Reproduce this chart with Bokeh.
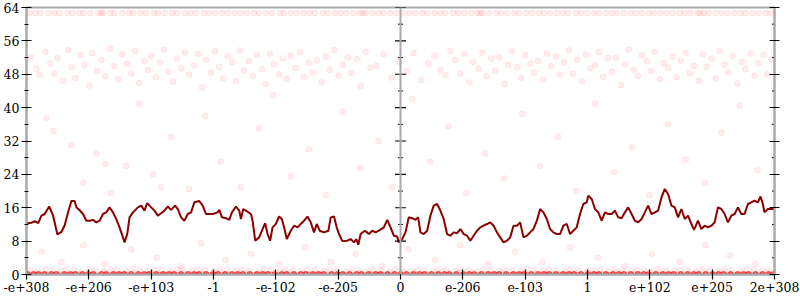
from bokeh.plotting import figure
from bokeh.models import Range1d, FixedTicker, LinearAxis, Span
from bokeh.embed import file_html
from bokeh.resources import INLINE

# ---- axis definitions -------------------------------------------------
x_tick_pos = [-375, -312.5, -250, -187.5, -125, -62.5, 0, 62.5, 125, 187.5, 250, 312.5, 375]
x_tick_labels = ["-e+308", "-e+206", "-e+103", "-1", "-e-102", "-e-205", "0",
                 "e-206", "e-103", "1", "e+102", "e+205", "2e+308"]
y_major = [0, 8, 16, 24, 32, 40, 48, 56, 64]
y_minor = [4, 12, 20, 28, 36, 44, 52, 60]

# ---- moving-average line ---------------------------------------------
line_x = [-375, -370, -366.7, -363.3, -360, -356.7, -352.3, -348.3, -344, -340, -336.7, -333.3, -330, -326.7,
          -325, -321.7, -318.3, -315, -311.7, -308.3, -305, -301.7, -298.3, -295, -291.7, -288.3, -285, -281.7,
          -278.3, -276.7, -274, -271.7, -268.3, -263.3, -260, -256.7, -254, -250, -246.7, -243.3, -240, -236.7,
          -233.3, -230, -226, -223.3, -220, -216.7, -213.3, -210, -206.7, -201.7, -198.3, -195, -191.7, -188.3,
          -183.3, -181.7, -179, -175, -171.7, -169, -165, -161.7, -160, -157.7, -155, -150, -148.3, -145.7,
          -141.7, -138.3, -135.7, -133.3, -130.7, -128.3, -125, -121.7, -119, -116.7, -114, -110, -106.7, -103.3,
          -100, -96.7, -93.3, -90, -86.7, -84, -81, -76.7, -72.3, -70, -66.7, -64, -61.7, -58.3, -53.3, -50,
          -46.7, -44.3, -42.3, -40, -35.7, -31.7, -28.3, -25, -21.7, -16.7, -13.3, -10, -6.7, -3.3, -1.7, 1.7,
          5, 8.3, 11.7, 15, 17.7, 20, 23.3, 26.7, 30, 33.3, 36.7, 40, 43.3, 46.7, 50, 53.3, 56.7, 60, 63.3,
          66.7, 70, 73.3, 76.7, 80, 83.3, 86.7, 90, 93.3, 96.7, 100, 103.3, 106.7, 110, 113.3, 116.7, 120,
          123.3, 126.7, 130, 133.3, 136.7, 140, 143.3, 146.7, 150, 153.3, 156.7, 160, 163.3, 166.7, 170, 173.3,
          176.7, 180, 183.3, 186.7, 188.3, 191.7, 195, 198.3, 201.7, 205, 208.3, 211.7, 215, 218.3, 221.7, 225,
          228.3, 231.7, 235, 238.3, 241.7, 245, 248.3, 251.7, 255, 258.3, 261.7, 265, 268.3, 271.7, 275, 278.3,
          281.7, 285, 288.3, 291.7, 294.3, 298.3, 301.7, 305, 308.3, 311.7, 315, 318.3, 321.7, 325, 328.3,
          331.7, 335, 338.3, 341.7, 345, 348.3, 351.7, 355, 358.3, 361, 363.3, 365, 368.3, 375]
line_y = [12.3, 12.4, 12.8, 12.3, 14.1, 14.5, 16.3, 14.1, 9.6, 10.2, 11.8, 14.9, 17.6, 17.6,
          16.1, 15.4, 14.5, 12.9, 12.9, 13.1, 12.5, 12.9, 14.5, 14.9, 16.1, 14.9, 13.3, 11.3,
          8.9, 7.7, 9.7, 13.7, 14.9, 16.1, 16.5, 15.3, 17.1, 16.1, 15.3, 14.1, 14.7, 15.3,
          16.3, 15.5, 16.5, 15.7, 13.7, 12.9, 14.5, 14.9, 17.3, 17.6, 16.5, 14.5, 14.5, 14.5,
          14.9, 15.5, 13.7, 13.5, 13.1, 14.9, 16.3, 15.3, 13.3, 15.7, 15.3, 14.5, 12.9, 8.1,
          8.9, 10.9, 12.3, 9.7, 8.1, 11.3, 12.1, 13.9, 13.3, 11.3, 8.5, 10.5, 11.7, 11.3,
          12.1, 12.9, 13.9, 12.5, 10.1, 12.1, 10.5, 10.1, 10.5, 13.7, 13.9, 11.3, 9.7, 8.0, 8.1, 8.5,
          7.7, 8.5, 7.1, 9.7, 10.5, 9.7, 10.5, 10.1, 10.5, 11.3, 13.1, 11.3, 9.3, 9.1, 7.7, 8.5,
          10.1, 13.7, 13.5, 13.1, 13.7, 10.1, 9.7, 10.5, 14.1, 16.5, 16.9, 15.3, 13.3, 9.7, 9.3, 10.1, 9.9, 10.9, 9.7,
          9.3, 8.1, 9.3, 10.5, 11.3, 11.7, 12.1, 12.5, 11.7, 10.1, 8.9, 7.7, 8.1, 8.9, 11.7, 11.7, 12.5,
          8.9, 9.3, 10.1, 10.9, 12.9, 15.7, 14.9, 13.3, 10.9, 10.1, 9.7, 9.7, 11.7, 12.1, 9.7, 10.5,
          11.3, 14.5, 16.9, 17.3, 18.9, 18.1, 15.7, 14.9, 12.9, 14.9, 14.5, 14.5, 15.3, 13.7, 13.5, 14.9,
          16.1, 14.5, 12.9, 12.5, 13.3, 14.9, 16.5, 14.5, 14.9, 15.3, 18.5, 20.5, 19.3, 16.5, 16.1, 13.7,
          15.7, 13.3, 14.1, 12.1, 10.7, 12.9, 10.9, 11.7, 11.3, 11.7, 12.5, 16.1, 15.7, 14.5, 12.5,
          14.1, 14.5, 16.1, 14.5, 14.5, 16.9, 17.3, 17.7, 17.3, 18.7, 16.9, 14.9, 15.7, 15.7]

# ---- scattered samples ------------------------------------------------
top_x = [-372, -366, -361, -353, -347, -342, -334, -329, -322, -318, -311, -303, -300, -298, -291, -287, -279,
         -272, -268, -261, -255, -247, -243, -236, -229, -224, -216, -211, -205, -197, -192, -186, -179, -173,
         -166, -160, -154, -147, -142, -135, -129, -121, -117, -110, -104, -97, -91, -86, -78, -73, -66, -60,
         -54, -47, -41, -38, -35, -28, -22, -17, -10, -4, 3, 9, 15, 22, 27, 34, 40, 45, 53, 58, 64, 71, 77,
         80, 82, 89, 96, 101, 107, 114, 119, 126, 132, 139, 144, 150, 157, 163, 168, 176, 181, 187, 194, 199,
         206, 212, 217, 224, 231, 236, 242, 249, 254, 261, 267, 273, 280, 285, 291, 298, 300, 304, 309, 316,
         322, 328, 335, 341, 346, 353, 359, 366, 371]
top_level = 62.7

zero_x = [-374, -368, -363, -357, -350, -345, -337, -331, -326, -319, -313, -308, -300, -295, -288, -282,
          -277, -270, -263, -257, -252, -245, -238, -232, -227, -220, -213, -207, -202, -195, -188, -183,
          -176, -169, -163, -158, -151, -144, -138, -133, -126, -119, -114, -107, -100, -95, -88, -82, -77,
          -69, -63, -58, -51, -44, -39, -32, -25, -20, -13, -6, 0, 6, 13, 19, 24, 31, 38, 44, 49, 56, 63, 69,
          74, 81, 88, 94, 99, 106, 113, 119, 124, 131, 138, 144, 149, 156, 163, 169, 174, 181, 188, 194, 199,
          206, 213, 219, 224, 231, 238, 244, 249, 256, 263, 269, 274, 281, 288, 294, 299, 306, 313, 319,
          324, 331, 338, 344, 349, 356, 363, 369, 374]

one_x = [-371, -364, -356, -349, -341, -335, -327, -320, -312, -306, -297, -290, -284, -275, -268, -261,
         -253, -246, -240, -231, -224, -218, -209, -203, -196, -187, -181, -174, -165, -159, -152, -143, -137,
         -130, -121, -115, -108, -99, -93, -86, -77, -71, -64, -55, -49, -42, -33, -27, -20, -11, -5, 2, 11,
         17, 24, 33, 39, 46, 55, 61, 68, 77, 83, 90, 99, 105, 112, 121, 127, 134, 143, 149, 156, 165, 171,
         178, 187, 193, 200, 209, 215, 222, 231, 237, 244, 253, 259, 266, 275, 281, 288, 297, 303, 310, 319,
         325, 332, 341, 347, 354, 363, 369]
one_y = [1.0, 0.8, 1.2, 1.0, 0.9, 1.1, 1.0, 0.7, 1.2, 1.0, 0.9, 1.1, 1.0, 0.8, 1.3, 1.0, 0.9, 1.1, 1.0,
         0.8, 1.2, 1.0, 0.9, 1.1, 1.0, 0.7, 1.2, 1.0, 0.9, 1.1, 1.0, 0.8, 1.3, 1.0, 0.9, 1.1, 1.0, 0.8, 1.2,
         1.0, 0.9, 1.1, 1.0, 0.7, 1.2, 1.0, 0.9, 1.1, 1.0, 0.8, 1.3, 1.0, 0.9, 1.1, 1.0, 0.8, 1.2, 1.0, 0.9,
         1.1, 1.0, 0.7, 1.2, 1.0, 0.9, 1.1, 1.0, 0.8, 1.3, 1.0, 0.9, 1.1, 1.0, 0.8, 1.2, 1.0, 0.9, 1.1, 1.0,
         0.7, 1.2, 1.0, 0.9, 1.1, 1.0, 0.8, 1.3, 1.0, 0.9, 1.1, 1.0, 0.8, 1.2, 1.0, 0.9, 1.1, 1.0, 0.7, 1.2,
         1.0, 0.9, 1.1]

band_x = [-371, -365, -362, -356, -351, -347, -344, -338, -333, -330, -326, -321, -317, -312, -309, -304,
          -300, -296, -291, -287, -283, -279, -274, -270, -266, -262, -257, -253, -250, -245, -241, -237,
          -233, -228, -224, -220, -216, -212, -207, -203, -199, -195, -190, -186, -182, -178, -173, -169,
          -165, -161, -157, -152, -148, -144, -139, -135, -131, -127, -122, -118, -114, -110, -105, -101,
          -97, -92, -88, -84, -79, -75, -71, -66, -62, -58, -53, -49, -44, -40, -35, -30, -24, -17, -9, -2,
          6, 13, 21, 28, 34, 40, 45, 50, 55, 60, 64, 69, 73, 78, 82, 86, 91, 95, 99, 104, 108, 112, 117, 121,
          125, 130, 134, 138, 143, 147, 151, 156, 160, 164, 169, 173, 177, 182, 186, 190, 195, 199, 203, 208,
          212, 216, 221, 225, 229, 234, 238, 242, 247, 251, 255, 260, 264, 268, 273, 277, 281, 286, 290, 294,
          299, 303, 307, 312, 316, 320, 325, 329, 333, 338, 342, 346, 351, 355, 359, 364, 368, 372]
band_y = [52.1, 49.3, 47.8, 53.4, 50.6, 48.2, 51.9, 46.5, 53.8, 49.7, 47.1, 52.6, 50.2, 45.3, 53.1, 48.8,
          51.4, 47.5, 54.2, 49.9, 46.8, 52.8, 50.5, 48.1, 53.6, 45.9, 51.2, 49.0, 52.4, 47.3, 50.8, 53.9,
          48.6, 46.2, 51.7, 49.4, 53.2, 47.9, 50.1, 52.9, 44.8, 51.5, 48.4, 53.5, 49.8, 47.0, 52.3, 50.9,
          46.4, 53.7, 48.9, 51.1, 47.6, 52.7, 49.2, 45.6, 53.0, 50.4, 48.0, 51.8, 46.9, 52.5, 49.5, 53.3,
          47.4, 50.7, 48.5, 51.3, 46.1, 52.2, 49.1, 53.8, 47.7, 50.3, 52.0, 48.3, 51.6, 45.1, 53.4, 49.6,
          50.0, 52.8, 47.2, 51.0, 48.7, 53.1, 46.6, 50.6, 52.4, 49.0, 47.8, 53.6, 51.4, 48.2, 52.9, 46.0,
          50.9, 49.3, 53.2, 47.5, 51.8, 48.9, 52.1, 45.7, 50.2, 53.5, 49.7, 47.1, 52.6, 50.5, 48.4, 51.2,
          46.7, 53.0, 49.9, 52.3, 47.9, 50.8, 53.7, 48.1, 51.5, 46.3, 52.7, 49.4, 50.1, 53.3, 47.4, 51.9,
          48.6, 52.0, 45.4, 50.4, 53.9, 49.1, 47.6, 52.5, 51.1, 48.8, 53.4, 46.8, 50.7, 49.6, 52.2, 47.3,
          51.3, 53.1, 48.3, 50.0, 46.4, 52.8, 49.8, 51.7, 47.0, 53.6, 50.3, 48.5, 52.4, 45.8, 51.0, 49.2,
          53.0, 47.7, 50.6, 52.6, 48.0, 51.6]

sparse_x = [-355, -348, -330, -318, -305, -296, -290, -275, -262, -248, -240, -230, -212, -196, -180, -160,
            -142, -128, -110, -92, -75, -58, -40, -22, -8, 12, 30, 48, 66, 85, 104, 122, 140, 158, 176, 195,
            214, 232, 250, 268, 286, 305, 322, 340, 358,
            -360, -340, -318, -296, -270, -244, -220, -200, -175, -150, -122, -96, -70, -45, -18, 8, 35, 60,
            88, 115, 142, 170, 198, 225, 252, 280, 306, 330, 356]
sparse_y = [37.5, 34.4, 31.0, 22.0, 29.0, 26.5, 19.5, 26.0, 41.0, 24.0, 21.0, 33.0, 20.5, 38.0, 27.0, 21.0,
            35.0, 43.0, 23.5, 30.0, 19.0, 39.0, 25.5, 32.0, 21.0, 42.0, 27.0, 35.5, 19.5, 29.0, 23.0, 38.5,
            26.0, 33.0, 20.0, 41.0, 24.5, 30.5, 19.0, 36.0, 27.5, 22.0, 34.0, 40.5, 25.0,
            5.5, 3.0, 7.0, 2.5, 6.0, 4.0, 2.0, 7.5, 3.5, 5.0, 2.5, 6.5, 3.0, 5.0, 2.0, 6.0, 3.5, 7.0,
            2.5, 5.5, 3.0, 6.5, 4.0, 2.0, 5.0, 3.0, 7.0, 4.5, 2.5]

# ---- figure -----------------------------------------------------------
AXIS_GREY = "#aaaaaa"
FONT = "DejaVu Serif"

p = figure(width=800, height=300, output_backend="svg", toolbar_location=None,
           x_range=Range1d(x_tick_pos[0], x_tick_pos[-1]), y_range=Range1d(y_major[0], y_major[-1]),
           min_border_left=24, min_border_right=26, min_border_top=7, min_border_bottom=26,
           background_fill_color="white", border_fill_color="white")
p.grid.visible = False
p.outline_line_color = AXIS_GREY
p.outline_line_width = 2

pt = dict(size=6, fill_color="red", line_color="red", fill_alpha=0.07, line_alpha=0.06)
n_band = min(len(band_x), len(band_y))
p.scatter(band_x[:n_band], band_y[:n_band], **pt)
p.scatter(sparse_x, sparse_y, **pt)
p.scatter(top_x, [top_level] * len(top_x), **pt)
p.scatter(one_x, one_y, **pt)
p.scatter(zero_x, [0] * len(zero_x), size=6, fill_color="red", line_color="red",
          fill_alpha=0.6, line_alpha=0.6)

p.line(line_x, line_y, line_color="#8b0000", line_width=2)

# centre axis (x = 0) with ticks on both sides
p.add_layout(Span(location=0, dimension="height", line_color=AXIS_GREY, line_width=2))
p.scatter([0] * len(y_major), y_major, marker="dash", size=11, line_color="black", line_width=1.2)
p.scatter([0] * len(y_minor), y_minor, marker="dash", size=5, line_color="black", line_width=1)

# short inner/outer minor ticks on the right edge
p.scatter([x_tick_pos[-1]] * len(y_minor), y_minor, marker="dash", size=5, line_color="black", line_width=1)


def style(ax, labels=True):
    ax.axis_line_color = AXIS_GREY
    ax.axis_line_width = 2
    ax.major_tick_line_color = "black"
    ax.major_tick_line_width = 1.2
    ax.major_tick_in = 5
    ax.major_tick_out = 5
    ax.minor_tick_in = 2
    ax.minor_tick_out = 2
    ax.minor_tick_line_color = "black"
    ax.major_label_text_font = FONT
    ax.major_label_text_font_size = "12.5px"
    ax.major_label_text_color = "black"
    ax.major_label_standoff = 2


p.yaxis.ticker = FixedTicker(ticks=y_major, minor_ticks=y_minor)
style(p.yaxis[0])

# right axis: the long ticks only (drawn as "minor" ticks so that no labels are made)
right = LinearAxis(ticker=FixedTicker(ticks=[], minor_ticks=y_major))
style(right)
right.minor_tick_in = 5
right.minor_tick_out = 5
right.minor_tick_line_width = 1.2
p.add_layout(right, "right")

p.xaxis.ticker = FixedTicker(ticks=x_tick_pos)
p.xaxis.major_label_overrides = {t: l for t, l in zip(x_tick_pos, x_tick_labels)}
style(p.xaxis[0])
p.xaxis.minor_tick_line_color = None

open("out.html", "w").write(file_html(p, INLINE))
